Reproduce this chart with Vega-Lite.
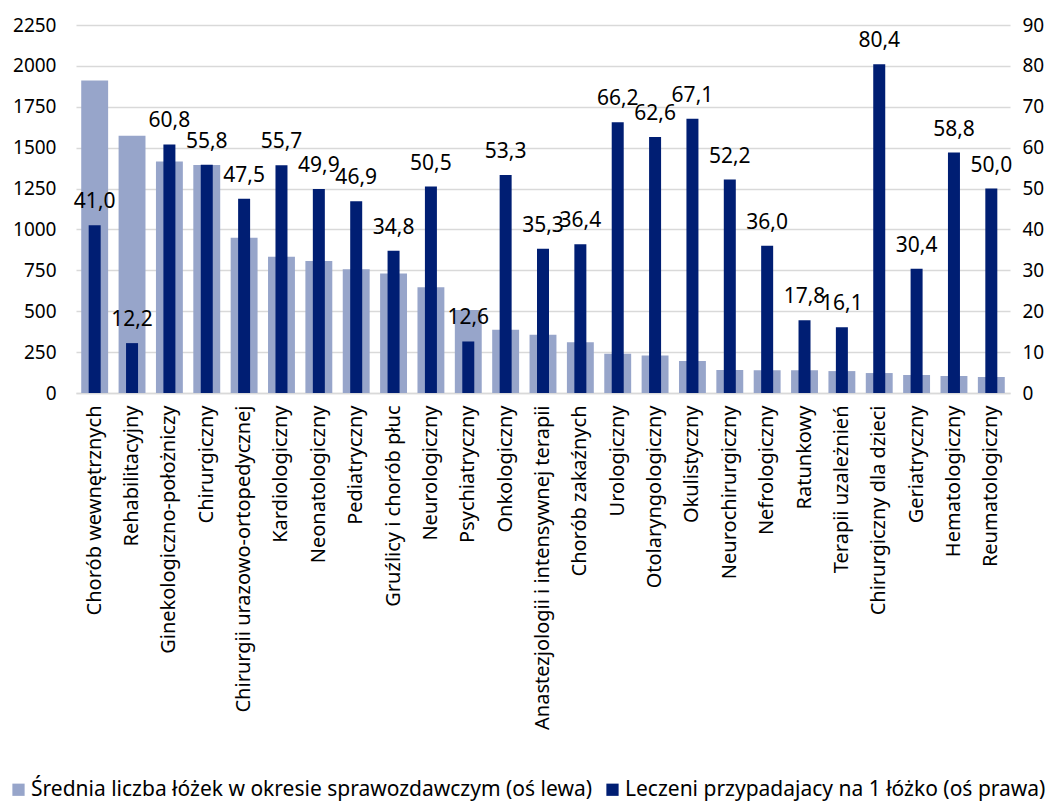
{
  "$schema": "https://vega.github.io/schema/vega-lite/v6.json",
  "width": 934,
  "height": 368,
  "autosize": {"type": "none"},
  "padding": {"left": 76, "top": 25, "right": 46, "bottom": 414},
  "background": "white",
  "config": {
    "view": {"stroke": null},
    "font": "Noto Sans",
    "locale": {"number": {"decimal": ",", "thousands": "", "grouping": [3], "currency": ["", ""]}}
  },
  "data": {
    "values": [
      {"oddzial": "Chorób wewnętrznych", "lozka": 1910, "leczeni": 41.0},
      {"oddzial": "Rehabilitacyjny", "lozka": 1573, "leczeni": 12.2},
      {"oddzial": "Ginekologiczno-położniczy", "lozka": 1416, "leczeni": 60.8},
      {"oddzial": "Chirurgiczny", "lozka": 1394, "leczeni": 55.8},
      {"oddzial": "Chirurgii urazowo-ortopedycznej", "lozka": 949, "leczeni": 47.5},
      {"oddzial": "Kardiologiczny", "lozka": 833, "leczeni": 55.7},
      {"oddzial": "Neonatologiczny", "lozka": 807, "leczeni": 49.9},
      {"oddzial": "Pediatryczny", "lozka": 756, "leczeni": 46.9},
      {"oddzial": "Gruźlicy i chorób płuc", "lozka": 731, "leczeni": 34.8},
      {"oddzial": "Neurologiczny", "lozka": 646, "leczeni": 50.5},
      {"oddzial": "Psychiatryczny", "lozka": 507, "leczeni": 12.6},
      {"oddzial": "Onkologiczny", "lozka": 387, "leczeni": 53.3},
      {"oddzial": "Anastezjologii i intensywnej terapii", "lozka": 356, "leczeni": 35.3},
      {"oddzial": "Chorób zakaźnych", "lozka": 310, "leczeni": 36.4},
      {"oddzial": "Urologiczny", "lozka": 240, "leczeni": 66.2},
      {"oddzial": "Otolaryngologiczny", "lozka": 230, "leczeni": 62.6},
      {"oddzial": "Okulistyczny", "lozka": 196, "leczeni": 67.1},
      {"oddzial": "Neurochirurgiczny", "lozka": 141, "leczeni": 52.2},
      {"oddzial": "Nefrologiczny", "lozka": 139, "leczeni": 36.0},
      {"oddzial": "Ratunkowy", "lozka": 139, "leczeni": 17.8},
      {"oddzial": "Terapii uzależnień", "lozka": 134, "leczeni": 16.1},
      {"oddzial": "Chirurgiczny dla dzieci", "lozka": 122, "leczeni": 80.4},
      {"oddzial": "Geriatryczny", "lozka": 110, "leczeni": 30.4},
      {"oddzial": "Hematologiczny", "lozka": 104, "leczeni": 58.8},
      {"oddzial": "Reumatologiczny", "lozka": 98, "leczeni": 50.0}
    ]
  },
  "encoding": {
    "x": {
      "field": "oddzial",
      "type": "nominal",
      "sort": null,
      "title": null,
      "scale": {"paddingInner": 0.28, "paddingOuter": 0.14},
      "axis": {"labelAngle": -90, "labelPadding": 12, "ticks": false, "domainColor": "#d9d9d9", "domainWidth": 1.5, "labelLimit": 400, "labelFont": "Noto Sans", "labelFontSize": 20, "labelColor": "#000000"}
    }
  },
  "layer": [
    {
      "mark": {"type": "bar"},
      "encoding": {
        "y": {
          "field": "lozka",
          "type": "quantitative",
          "title": null,
          "scale": {"domain": [0, 2250], "nice": false},
          "axis": {"values": [0, 250, 500, 750, 1000, 1250, 1500, 1750, 2000, 2250], "format": "d", "domain": false, "ticks": false, "grid": true, "gridColor": "#d9d9d9", "gridWidth": 1.5, "labelPadding": 20, "labelFont": "Noto Sans", "labelFontSize": 19, "labelColor": "#000000"}
        },
        "color": {
          "datum": "Średnia liczba łóżek w okresie sprawozdawczym (oś lewa)",
          "type": "nominal",
          "scale": {
            "domain": ["Średnia liczba łóżek w okresie sprawozdawczym (oś lewa)", "Leczeni przypadajacy na 1 łóżko (oś prawa)"],
            "range": ["#97A5CA", "#001E73"]
          },
          "legend": {
            "title": null,
            "orient": "none",
            "legendX": -68,
            "legendY": 754,
            "padding": 0,
            "direction": "horizontal",
            "symbolType": "square",
            "symbolSize": 150,
            "symbolOffset": 0,
            "symbolStrokeWidth": 0,
            "labelFont": "Noto Sans",
            "labelFontSize": 21,
            "labelColor": "#000000",
            "labelLimit": 800,
            "columnPadding": 10,
            "labelOffset": 2
          }
        }
      }
    },
    {
      "layer": [
        {
          "mark": {"type": "bar", "size": 12},
          "encoding": {
            "y": {
              "field": "leczeni",
              "type": "quantitative",
              "title": null,
              "scale": {"domain": [0, 90], "nice": false},
              "axis": {"orient": "right", "values": [0, 10, 20, 30, 40, 50, 60, 70, 80, 90], "domain": false, "ticks": false, "grid": false, "labelPadding": 12, "labelFont": "Noto Sans", "labelFontSize": 19, "labelColor": "#000000"}
            },
            "color": {"datum": "Leczeni przypadajacy na 1 łóżko (oś prawa)", "type": "nominal"}
          }
        },
        {
          "mark": {"type": "text", "baseline": "bottom", "dy": -13, "fontSize": 21, "font": "Noto Sans", "color": "#000000"},
          "encoding": {
            "y": {"field": "leczeni", "type": "quantitative"},
            "text": {"field": "leczeni", "type": "quantitative", "format": ".1f"}
          }
        }
      ]
    }
  ],
  "resolve": {"scale": {"y": "independent"}}
}
